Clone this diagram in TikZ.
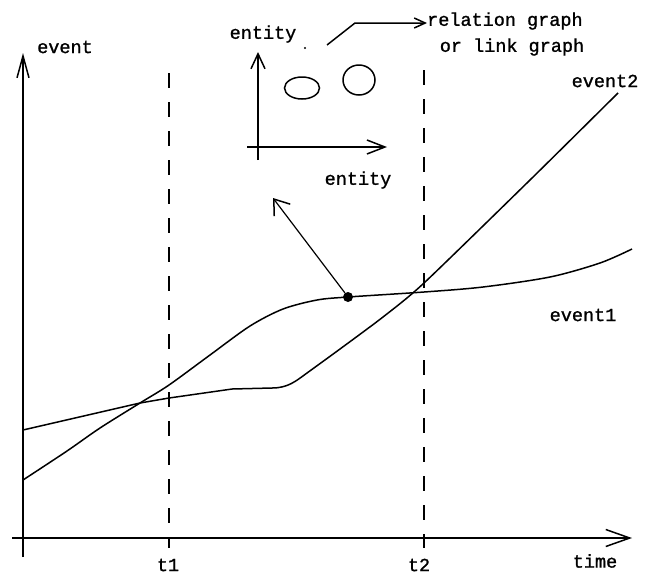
\documentclass[tikz,border=0pt]{standalone}
\usepackage{fontspec}
\newfontfamily\lblfont[FakeBold=1.2]{Liberation Mono}
\usetikzlibrary{arrows.meta}
\begin{document}
\begin{tikzpicture}[x=1pt,y=-1pt,
  lbl/.style={font=\lblfont\fontsize{18.5}{20}\selectfont, inner sep=0pt},
  axisline/.style={line width=2pt},
  curveline/.style={line width=1.5pt},
  dashline/.style={line width=2pt, dash pattern=on 15pt off 14pt},
  barb/.style 2 args={-{Straight Barb[length=#1,width=#2,line width=1.5pt]}},
]
\useasboundingbox (0,0) rectangle (652,574);
\fill[white] (0,0) rectangle (652,574);

% main axes
\coordinate (vbot) at (23,557);
\coordinate (vtop) at (23,53);
\coordinate (hleft) at (12,538);
\coordinate (hright) at (632,538);
\draw[axisline, barb={22pt}{12pt}] (vbot) -- (vtop);
\draw[axisline, barb={24pt}{17pt}] (hleft) -- (hright);

% dashed time markers
\coordinate (t1top) at (169,73);
\coordinate (t1bot) at (169,548);
\coordinate (t2top) at (424,70);
\coordinate (t2bot) at (424,548);
\draw[dashline] (t1top) -- (t1bot);
\draw[dashline] (t2top) -- (t2bot);

% labels
\node[lbl] (lev) at (65,47) {event};
\node[lbl] (lt1) at (168,565) {t1};
\node[lbl] (lt2) at (419,565) {t2};
\node[lbl] (ltime) at (595,561) {time};
\node[lbl] (lev1) at (583,315) {event1};
\node[lbl] (lev2) at (605,81) {event2};

% curves
\draw[curveline] plot[smooth, tension=0.5] coordinates {(23,480) (67,451) (100,428) (140,403) (169,385) (210,355) (250,326) (283,309) (317,300) (348,297) (424,292) (483,287) (550,277) (600,263) (632,249)};
\draw[curveline] (23,430) -- (140,403) -- (169,398) -- (232,389) -- (272,388)
  .. controls (288,388) and (296,381) .. (307,373)
  plot[smooth, tension=0.4] coordinates {(307,373) (340,349) (383,317) (424,283) (530,180) (618,93)};

% event point and arrow to inner graph
\node[circle, fill=black, inner sep=0pt, minimum size=10pt] (pt) at (348,297) {};
\coordinate (ptarrow) at (273,198);
\draw[line width=1.2pt, barb={14pt}{20pt}] (pt) -- (ptarrow);

% inner entity graph
\coordinate (ivbot) at (258,160);
\coordinate (ivtop) at (258,52);
\coordinate (ihleft) at (247,147);
\coordinate (ihright) at (387,147);
\draw[axisline, barb={15pt}{14pt}] (ivbot) -- (ivtop);
\draw[axisline, barb={18pt}{14pt}] (ihleft) -- (ihright);
\node[lbl] (lent1) at (263,34) {entity};
\node[lbl] (lent2) at (358,180) {entity};
\fill (305,48) circle[radius=1.2pt];
\draw[line width=1.5pt] (302,88) ellipse[x radius=17.5, y radius=11];
\draw[line width=1.5pt] (359,80) ellipse[x radius=16, y radius=15];

% relation graph label and arrow
\node[lbl, anchor=west] (rel1) at (427,21) {relation graph};
\node[lbl] (rel2) at (512,47) {or link graph};
\coordinate (relstart) at (327,45);
\coordinate (relbend) at (355,23);
\draw[line width=1.5pt, barb={11pt}{10pt}] (relstart) -- (relbend) -- (rel1.west |- relbend);
\end{tikzpicture}
\end{document}
